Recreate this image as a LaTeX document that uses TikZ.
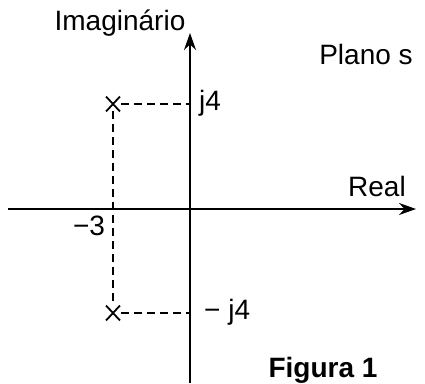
\documentclass[tikz,border=0pt]{standalone}
\usepackage{fontspec}
\setmainfont{Liberation Sans}
\usetikzlibrary{arrows.meta,shapes.misc}
\begin{document}
\begin{tikzpicture}[x=1pt,y=1pt,
  axis/.style={line width=2pt,-{Stealth[length=17pt,width=12pt]}},
  guide/.style={line width=1.6pt,dash pattern=on 8pt off 5pt},
  pole/.style={draw,cross out,line width=1.8pt,minimum width=12pt,minimum height=13pt,inner sep=0pt},
  lbl/.style={font=\fontsize{28}{32}\selectfont,inner sep=0pt}]
\useasboundingbox (0,0) rectangle (425,383);
% axes
\coordinate (ybot) at (190,0);
\coordinate (ytop) at (190,350);
\coordinate (xl) at (8,174);
\coordinate (xr) at (416,174);
\draw[axis] (ybot) -- (ytop);
\draw[axis] (xl) -- (xr);
% poles
\node[pole] (p1) at (113,279) {};
\node[pole] (p2) at (113,70) {};
\coordinate (a1) at (190,279);
\coordinate (a2) at (190,70);
\draw[guide] (p1.center) ++(8,0) -- (a1);
\draw[guide] (p2.center) ++(8,0) -- (a2);
\draw[guide] (p1.south) -- (p2.north);
% labels
\node[lbl] (im) at (120,360) {Imaginário};
\node[lbl] (pl) at (366,329) {Plano s};
\node[lbl,anchor=west] (j4) at (199,280) {j4};
\node[lbl] (re) at (377,197) {Real};
\node[lbl] (m3) at (89,157) {−3};
\node[lbl,anchor=west] (mj4) at (204,71) {− j4};
\node[lbl,font=\fontsize{28}{32}\selectfont\bfseries] (fig) at (323,13) {Figura 1};
\end{tikzpicture}
\end{document}
